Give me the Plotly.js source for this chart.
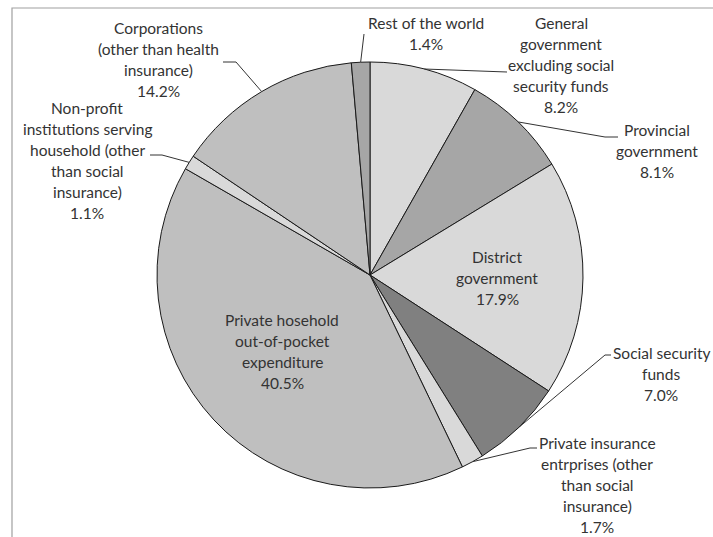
<!DOCTYPE html>
<html>
<head>
<meta charset="utf-8">
<script src="https://cdn.plot.ly/plotly-3.0.1.min.js"></script>
<style>html,body{margin:0;padding:0;background:#fff;}#chart{width:713px;height:537px;}</style>
</head>
<body>
<div id="chart"></div>
<script>
// ---- data ----
const labels = [
  "General<br>government<br>excluding social<br>security funds",
  "Provincial<br>government",
  "District<br>government",
  "Social security<br>funds",
  "Private insurance<br>entrprises (other<br>than social<br>insurance)",
  "Private hosehold<br>out-of-pocket<br>expenditure",
  "Non-profit<br>institutions serving<br>household (other<br>than social<br>insurance)",
  "Corporations<br>(other than health<br>insurance)",
  "Rest of the world"
];
const values = [8.2, 8.1, 17.9, 7.0, 1.7, 40.5, 1.1, 14.2, 1.4];
const colors = ["#d9d9d9", "#a6a6a6", "#d9d9d9", "#808080", "#d9d9d9", "#bfbfbf", "#d9d9d9", "#bfbfbf", "#a6a6a6"];

// ---- layout styling (pixels) ----
const W = 713, H = 537;
const CX = 370, CY = 275, R = 213;
const LINE = 21;
// label block: centre x, first line y
const labelPos = [[561, 23], [657, 130], [497, 257], [661, 353], [597, 443], [282, 320], [87, 108], [158, 28], [426, 23]];
// leader line text-side points (null = inside label)
const leaderPts = [
  [[507, 72]],
  [[605, 137], [618, 137]],
  null,
  [[605, 355], [611, 355]],
  [[530, 448], [537, 448]],
  null,
  [[162, 155], [150, 155]],
  [[236, 62], [223, 62]],
  [[364, 34]]
];

const px = x => x / W;
const py = y => 1 - y / H;

const total = values.reduce((a, b) => a + b, 0);
const annotations = [];
const shapes = [];

let cum = 0;
values.forEach((v, i) => {
  const mid = (cum + v / 2) / total * 2 * Math.PI;
  cum += v;
  const lines = labels[i].split("<br>").concat([v.toFixed(1) + "%"]);
  lines.forEach((t, j) => {
    annotations.push({
      xref: "paper", yref: "paper",
      x: px(labelPos[i][0]), y: py(labelPos[i][1] + j * LINE),
      xanchor: "center", yanchor: "middle",
      text: t, showarrow: false,
      font: {family: "Lato, 'Open Sans', sans-serif", size: 15.5, color: "#333333"}
    });
  });
  if (leaderPts[i]) {
    const ex = CX + R * Math.sin(mid), ey = CY - R * Math.cos(mid);
    let path = "M" + px(ex) + "," + py(ey);
    leaderPts[i].forEach(p => { path += " L" + px(p[0]) + "," + py(p[1]); });
    shapes.push({type: "path", xref: "paper", yref: "paper", path: path,
      line: {color: "#333333", width: 1}});
  }
});

// frame
shapes.push({type: "rect", xref: "paper", yref: "paper",
  x0: px(12), x1: px(W + 20), y0: py(H + 20), y1: py(8),
  line: {color: "#a0a0a0", width: 1.2}, fillcolor: "rgba(0,0,0,0)", layer: "below"});

const trace = {
  type: "pie",
  labels: labels,
  values: values,
  sort: false,
  direction: "clockwise",
  rotation: 0,
  marker: {colors: colors, line: {color: "#1a1a1a", width: 1}},
  textinfo: "none",
  hoverinfo: "skip",
  showlegend: false,
  domain: {x: [px(CX - R), px(CX + R)], y: [py(CY + R), py(CY - R)]}
};

const layout = {
  width: W, height: H,
  margin: {l: 0, r: 0, t: 0, b: 0},
  paper_bgcolor: "#ffffff",
  showlegend: false,
  annotations: annotations,
  shapes: shapes
};

Plotly.newPlot("chart", [trace], layout, {staticPlot: true, displayModeBar: false});
</script>
</body>
</html>
